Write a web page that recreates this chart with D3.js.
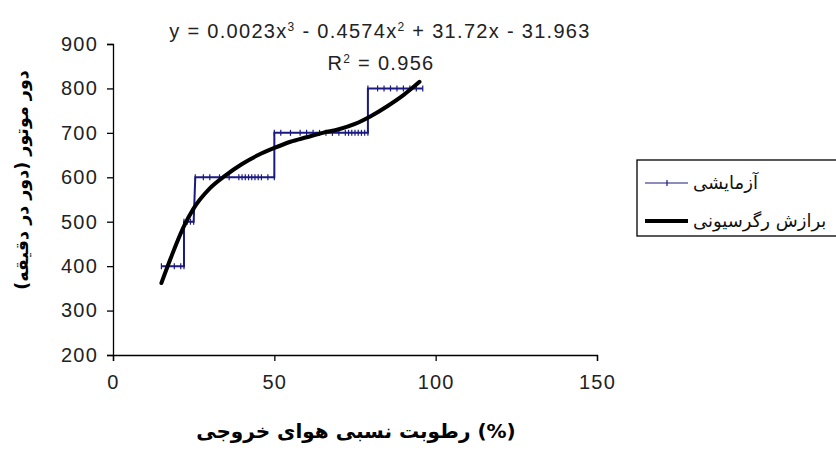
<!DOCTYPE html>
<html>
<head>
<meta charset="utf-8">
<script src="https://cdn.jsdelivr.net/npm/d3@7"></script>
<style>
  body { margin: 0; background: #fff; }
  svg { display: block; }
</style>
</head>
<body>
<script>
const width = 836
const height = 453

// experimental data: outlet air relative humidity (%) vs motor speed (rpm)
const humidity = [15, 17, 19, 21, 22, 22, 23, 24, 25, 25.5, 28, 30, 33, 36, 39, 40, 41, 42, 43, 44, 45, 46, 48, 50,
  50, 52, 55, 58, 60, 62, 64, 66, 68, 70, 72, 73, 74, 75, 76, 77, 78, 79,
  79, 82, 84, 86, 88, 90, 92, 94, 96]
const speed = [400, 400, 400, 400, 400, 500, 500, 500, 500, 600, 600, 600, 600, 600, 600, 600, 600, 600, 600, 600, 600, 600, 600, 600,
  700, 700, 700, 700, 700, 700, 700, 700, 700, 700, 700, 700, 700, 700, 700, 700, 700, 700,
  800, 800, 800, 800, 800, 800, 800, 800, 800]

// regression curve
const fitX = [15, 18, 22, 25, 30, 35, 40, 45, 50, 55, 60, 65, 70, 75, 80, 85, 90, 95]
const fitY = [362, 420, 490, 530, 575, 605, 630, 650, 666, 680, 690, 700, 708, 720, 738, 760, 785, 815]

// equation label text
const eqTerms = ['0.0023', '0.4574', '31.72', '31.963']
const rSquared = '0.956'

const xTicks = [0, 50, 100, 150]
const yTicks = [200, 300, 400, 500, 600, 700, 800, 900]
const legendLabels = ['آزمایشی', 'برازش رگرسیونی']
const xTitle = 'رطوبت نسبی هوای خروجی (%)'
const yTitle = 'دور موتور (دور در دقیقه)'

const latin = 'Liberation Sans, Arial, sans-serif'
const persian = 'DejaVu Sans, sans-serif'

const svg = d3.select('body')
  .append('svg')
  .attr('width', width)
  .attr('height', height)

const xScale = d3.scaleLinear().domain([0, 150]).range([113, 597])
const yScale = d3.scaleLinear().domain([200, 900]).range([355, 44])

const xAxis = d3.axisBottom(xScale).tickValues(xTicks).tickSize(6).tickPadding(14)
const yAxis = d3.axisLeft(yScale).tickValues(yTicks).tickSize(6).tickPadding(9)

const gx = svg.append('g')
  .attr('transform', `translate(0, ${yScale(200)})`)
  .call(xAxis)
const gy = svg.append('g')
  .attr('transform', `translate(${xScale(0)}, 0)`)
  .call(yAxis)

;[gx, gy].forEach(function (g) {
  g.select('.domain').attr('stroke', '#000').attr('stroke-width', 1.3)
  g.selectAll('.tick line').attr('stroke', '#000').attr('stroke-width', 1.3)
  g.selectAll('.tick text')
    .attr('fill', '#222')
    .attr('font-family', latin)
    .attr('font-size', '20px')
    .attr('letter-spacing', '1.2px')
})

// experimental series
const points = humidity.map(function (h, i) { return [h, speed[i]] })
const line = d3.line()
  .x(function (d) { return xScale(d[0]) })
  .y(function (d) { return yScale(d[1]) })

svg.append('path')
  .datum(points)
  .attr('d', line)
  .attr('fill', 'none')
  .attr('stroke', '#1a1a80')
  .attr('stroke-width', 2)

svg.selectAll('.marker')
  .data(points)
  .enter()
  .append('line')
  .attr('class', 'marker')
  .attr('x1', function (d) { return xScale(d[0]) })
  .attr('x2', function (d) { return xScale(d[0]) })
  .attr('y1', function (d) { return yScale(d[1]) - 3 })
  .attr('y2', function (d) { return yScale(d[1]) + 3 })
  .attr('stroke', '#1a1a80')
  .attr('stroke-width', 1.2)

// regression trendline
const fit = fitX.map(function (x, i) { return [x, fitY[i]] })
svg.append('path')
  .datum(fit)
  .attr('d', d3.line()
    .x(function (d) { return xScale(d[0]) })
    .y(function (d) { return yScale(d[1]) })
    .curve(d3.curveMonotoneX))
  .attr('fill', 'none')
  .attr('stroke', '#000')
  .attr('stroke-width', 4)
  .attr('stroke-linecap', 'round')

// equation label
const eq = svg.append('text')
  .attr('x', 380)
  .attr('y', 38)
  .attr('text-anchor', 'middle')
  .attr('font-family', latin)
  .attr('font-size', '20px')
  .attr('letter-spacing', '1.3px')
  .attr('fill', '#222')
eq.append('tspan').text('y = ' + eqTerms[0] + 'x')
eq.append('tspan').attr('dy', -7).attr('font-size', '12px').text('3')
eq.append('tspan').attr('dy', 7).text(' - ' + eqTerms[1] + 'x')
eq.append('tspan').attr('dy', -7).attr('font-size', '12px').text('2')
eq.append('tspan').attr('dy', 7).text(' + ' + eqTerms[2] + 'x - ' + eqTerms[3])

const r2 = svg.append('text')
  .attr('x', 381)
  .attr('y', 70)
  .attr('text-anchor', 'middle')
  .attr('font-family', latin)
  .attr('font-size', '20px')
  .attr('letter-spacing', '1.3px')
  .attr('fill', '#222')
r2.append('tspan').text('R')
r2.append('tspan').attr('dy', -7).attr('font-size', '12px').text('2')
r2.append('tspan').attr('dy', 7).text(' = ' + rSquared)

// axis titles
svg.append('text')
  .attr('x', 356)
  .attr('y', 438)
  .attr('text-anchor', 'middle')
  .attr('font-family', persian)
  .attr('font-weight', 'bold')
  .attr('font-size', '20px')
  .text(xTitle)

svg.append('text')
  .attr('transform', 'translate(28, 180) rotate(-90)')
  .attr('text-anchor', 'middle')
  .attr('font-family', persian)
  .attr('font-weight', 'bold')
  .attr('font-size', '17.5px')
  .text(yTitle)

// legend
const legend = svg.append('g')
legend.append('rect')
  .attr('x', 637)
  .attr('y', 160)
  .attr('width', 215)
  .attr('height', 76)
  .attr('fill', '#fff')
  .attr('stroke', '#000')
  .attr('stroke-width', 1.3)

const legendStyles = [
  { color: '#1a1a80', w: 1.2, marker: true },
  { color: '#000', w: 4, marker: false }
]
legendLabels.forEach(function (label, i) {
  const y = 183 + i * 38
  legend.append('line')
    .attr('x1', 645).attr('x2', 688)
    .attr('y1', y).attr('y2', y)
    .attr('stroke', legendStyles[i].color)
    .attr('stroke-width', legendStyles[i].w)
  if (legendStyles[i].marker) {
    legend.append('line')
      .attr('x1', 667).attr('x2', 667)
      .attr('y1', y - 3).attr('y2', y + 3)
      .attr('stroke', legendStyles[i].color)
      .attr('stroke-width', 1.2)
  }
  legend.append('text')
    .attr('x', 693)
    .attr('y', y + 6)
    .attr('font-family', persian)
    .attr('font-size', '18px')
    .attr('fill', '#111')
    .text(label)
})
</script>
</body>
</html>
